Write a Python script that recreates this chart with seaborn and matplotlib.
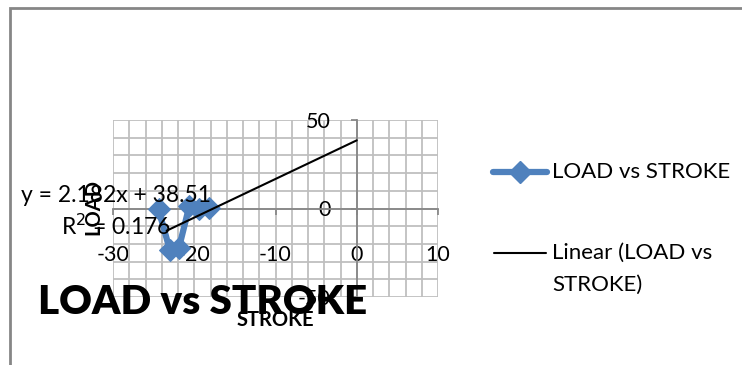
import numpy as np
import seaborn as sns
import matplotlib.pyplot as plt
from matplotlib.lines import Line2D
from matplotlib.ticker import MultipleLocator

# data
stroke = [-24.4, -23.0, -21.9, -20.6, -19.4, -18.2]
load = [-0.5, -23.5, -22.5, 1.5, -0.5, 0.5]

# trendline as printed on the chart
trend_slope = 2.182
trend_intercept = 38.51
trend_r2 = 0.176
trend_x = [-23.4, 0.0]

x_ticks = [-30, -20, -10, 0, 10]
y_ticks = [-50, 0, 50]

sns.set_theme(style="white")
plt.rcParams['font.family'] = ['Lato', 'DejaVu Sans']
plt.rcParams['axes.unicode_minus'] = False
plt.rcParams['text.color'] = 'black'
plt.rcParams['xtick.labelcolor'] = 'black'
plt.rcParams['ytick.labelcolor'] = 'black'

blue = '#4F81BD'
grid_col = '#BFBFBF'
axis_col = '#868686'

fig = plt.figure(figsize=(7.42, 3.65), dpi=100)
ax = fig.add_axes([113 / 742, 1 - 297 / 365, 325 / 742, 177 / 365])

sns.lineplot(x=stroke, y=load, sort=False, marker='D', color=blue,
             linewidth=4.5, markersize=11, markeredgecolor=blue, ax=ax, zorder=4)

tx = np.array(trend_x)
ax.plot(tx, trend_slope * tx + trend_intercept, color='black', lw=1.5, zorder=5)

ax.set_xlim(-30, 10)
ax.set_ylim(-50, 50)
ax.set_xticks(x_ticks)
ax.set_yticks(y_ticks)
ax.xaxis.set_minor_locator(MultipleLocator(2))
ax.yaxis.set_minor_locator(MultipleLocator(10))
ax.grid(True, which='both', color=grid_col, lw=1.3)
ax.set_axisbelow(True)

for s in ['top', 'right']:
    ax.spines[s].set_visible(False)
ax.spines['left'].set_position(('data', 0))
ax.spines['bottom'].set_position(('data', 0))
for s in ['left', 'bottom']:
    ax.spines[s].set_color(axis_col)
    ax.spines[s].set_linewidth(1.3)
    ax.spines[s].set_zorder(3)

ax.tick_params(axis='x', which='major', length=4, color=axis_col, pad=22,
               labelsize=15.5, direction='out', bottom=True, labelcolor='black')
ax.tick_params(axis='y', which='major', length=4, color=axis_col, pad=15,
               labelsize=15.5, direction='out', left=True, labelcolor='black')
ax.tick_params(which='minor', length=0)
ax.set_xlabel('')
ax.set_ylabel('')

# axis titles
fig.text(93 / 742, 1 - 207 / 365, 'LOAD', rotation=90, fontsize=14.5,
         fontweight='bold', ha='center', va='center')
fig.text(275 / 742, 1 - 320 / 365, 'STROKE', fontsize=14.5,
         fontweight='bold', ha='center', va='center')

# trendline label
fig.text(116 / 742, 1 - 212 / 365,
         f'y = {trend_slope}x + {trend_intercept}\nR$^2$ = {trend_r2}',
         fontsize=16.5, ha='center', va='center', multialignment='center',
         linespacing=1.35, zorder=6)

# chart title
fig.text(203 / 742, 1 - 302 / 365, 'LOAD vs STROKE', fontsize=29,
         fontweight='heavy', ha='center', va='center', zorder=10)

# legend
fig.add_artist(Line2D([493 / 742, 547 / 742], [1 - 172 / 365] * 2, color=blue,
                      lw=4.5))
fig.add_artist(Line2D([520 / 742], [1 - 172 / 365], color=blue, marker='D',
                      markersize=11, lw=0))
fig.text(552 / 742, 1 - 172 / 365, 'LOAD vs STROKE', fontsize=16, va='center')
fig.add_artist(Line2D([494 / 742, 546 / 742], [1 - 253 / 365] * 2,
                      color='black', lw=1.5))
fig.text(552 / 742, 1 - 243 / 365, 'Linear (LOAD vs\nSTROKE)', fontsize=16,
         va='top', linespacing=1.75)

# chart frame
fig.add_artist(plt.Rectangle((10 / 742, -0.2), 1.2, (1 - 8 / 365) + 0.2,
                             transform=fig.transFigure, fill=False,
                             edgecolor=axis_col, lw=2))

fig.savefig('out.png', dpi=100)
